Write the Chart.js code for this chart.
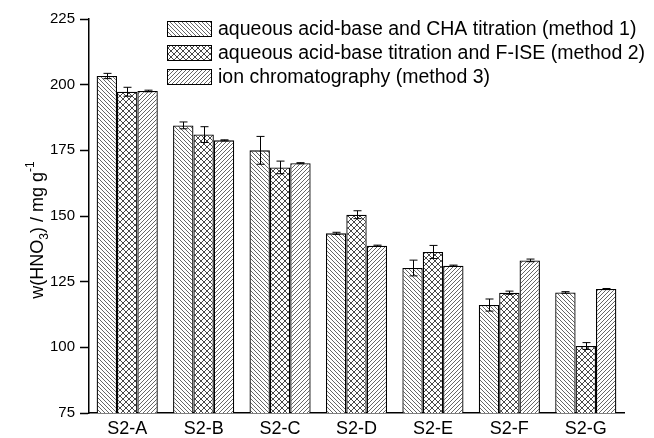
<!DOCTYPE html>
<html>
<head>
<meta charset="utf-8">
<script src="https://cdn.jsdelivr.net/npm/chart.js@4"></script>
<style>
  html, body { margin: 0; padding: 0; background: #fff; }
  #wrap { width: 654px; height: 438px; }
</style>
</head>
<body>
<div id="wrap"><canvas id="myChart" width="654" height="438"></canvas></div>
<script>
var samples = ['S2-A', 'S2-B', 'S2-C', 'S2-D', 'S2-E', 'S2-F', 'S2-G'];
var methodNames = [
    'aqueous acid-base and CHA titration (method 1)',
    'aqueous acid-base titration and F-ISE (method 2)',
    'ion chromatography (method 3)'
];
var method1 = [203.3, 184.5, 175.0, 143.4, 130.2, 116.1, 120.9];
var method2 = [197.3, 181.0, 168.5, 150.5, 136.3, 120.8, 100.5];
var method3 = [197.6, 178.8, 170.1, 138.7, 131.1, 133.1, 122.2];
var err1 = [1.0, 1.3, 5.3, 0.4, 3.0, 2.3, 0.3];
var err2 = [1.7, 3.0, 2.4, 1.5, 2.5, 0.6, 1.3];
var err3 = [0.3, 0.2, 0.2, 0.2, 0.2, 0.5, 0.2];
var yTicks = [75, 100, 125, 150, 175, 200, 225];

var FONT = '"Liberation Sans", Arial, sans-serif';

// hatch fills
function hatch(kind) {
    var s = kind === 'cross' ? 6 : 4;
    var c = document.createElement('canvas');
    c.width = s; c.height = s;
    var g = c.getContext('2d');
    g.fillStyle = '#fff';
    g.fillRect(0, 0, s, s);
    g.strokeStyle = kind === 'cross' ? '#333' : '#555';
    g.lineWidth = 0.9;
    g.beginPath();
    if (kind === 'back' || kind === 'cross') {
        g.moveTo(-1, -1); g.lineTo(s + 1, s + 1);
        g.moveTo(-1, s - 1); g.lineTo(1, s + 1);
        g.moveTo(s - 1, -1); g.lineTo(s + 1, 1);
    }
    if (kind === 'fwd' || kind === 'cross') {
        g.moveTo(-1, s + 1); g.lineTo(s + 1, -1);
        g.moveTo(-1, 1); g.lineTo(1, -1);
        g.moveTo(s - 1, s + 1); g.lineTo(s + 1, s - 1);
    }
    g.stroke();
    return g.createPattern(c, 'repeat');
}
var fills = [hatch('back'), hatch('cross'), hatch('fwd')];
var errs = [err1, err2, err3];

var errorBars = {
    id: 'errorBars',
    afterDatasetsDraw: function (chart) {
        var ctx = chart.ctx, y = chart.scales.y;
        ctx.save();
        ctx.strokeStyle = '#000';
        ctx.lineWidth = 1;
        chart.data.datasets.forEach(function (ds, i) {
            var meta = chart.getDatasetMeta(i);
            meta.data.forEach(function (bar, j) {
                var v = ds.data[j], e = errs[i][j];
                var top = y.getPixelForValue(v + e), bot = y.getPixelForValue(v - e);
                var x = Math.round(bar.x) + 0.5;
                ctx.beginPath();
                ctx.moveTo(x, top); ctx.lineTo(x, bot);
                ctx.moveTo(x - 4, top); ctx.lineTo(x + 4, top);
                ctx.moveTo(x - 4, bot); ctx.lineTo(x + 4, bot);
                ctx.stroke();
            });
        });
        ctx.restore();
    }
};

var legendAndTitle = {
    id: 'legendAndTitle',
    afterDraw: function (chart) {
        var ctx = chart.ctx;
        ctx.save();
        // legend
        chart.data.datasets.forEach(function (ds, i) {
            var bx = 167.5, by = 21.5 + i * 24;
            ctx.fillStyle = ds.backgroundColor;
            ctx.fillRect(bx, by, 44, 15);
            ctx.strokeStyle = '#000';
            ctx.lineWidth = 1;
            ctx.strokeRect(bx, by, 44, 15);
            ctx.fillStyle = '#000';
            ctx.font = '19.5px ' + FONT;
            ctx.textBaseline = 'middle';
            ctx.textAlign = 'left';
            ctx.fillText(ds.label, 218, by + 8.5);
        });
        // y axis title with sub/superscript
        var parts = [
            { t: 'w(HNO', size: 18, dy: 0 },
            { t: '3', size: 12, dy: 5 },
            { t: ') / mg g', size: 18, dy: 0 },
            { t: '-1', size: 12, dy: -9 }
        ];
        var total = 0;
        parts.forEach(function (p) {
            ctx.font = p.size + 'px ' + FONT;
            p.w = ctx.measureText(p.t).width;
            total += p.w;
        });
        ctx.translate(43, 230);
        ctx.rotate(-Math.PI / 2);
        ctx.textAlign = 'left';
        ctx.textBaseline = 'alphabetic';
        ctx.fillStyle = '#000';
        var px = -total / 2;
        parts.forEach(function (p) {
            ctx.font = p.size + 'px ' + FONT;
            ctx.fillText(p.t, px, p.dy);
            px += p.w;
        });
        ctx.restore();
    }
};

var ctx = document.getElementById('myChart').getContext('2d');
var chart = new Chart(ctx, {
    type: 'bar',
    data: {
        labels: samples,
        datasets: [method1, method2, method3].map(function (d, i) {
            return {
                label: methodNames[i],
                data: d,
                backgroundColor: fills[i],
                borderColor: '#000',
                borderWidth: 1.3,
                borderSkipped: 'bottom',
                categoryPercentage: 0.8,
                barPercentage: 1.0
            };
        })
    },
    options: {
        responsive: false,
        animation: false,
        layout: { padding: { left: 0, top: 19, right: 30, bottom: 0 } },
        plugins: {
            legend: { display: false },
            title: { display: false },
            tooltip: { enabled: false }
        },
        scales: {
            x: {
                grid: { display: false, drawTicks: false },
                border: { display: true, color: '#000', width: 1.5 },
                ticks: { color: '#000', padding: 5, font: { family: FONT, size: 18 } },
                afterFit: function (s) { s.height = 25; }
            },
            y: {
                min: 75,
                max: 225,
                afterBuildTicks: function (s) {
                    s.ticks = yTicks.map(function (v) { return { value: v }; });
                },
                grid: { drawOnChartArea: false, drawTicks: true, tickLength: 9, tickWidth: 1.5, tickColor: '#000' },
                border: { display: true, color: '#000', width: 1.5 },
                ticks: { color: '#000', padding: 5, font: { family: FONT, size: 15 } },
                afterFit: function (s) { s.width = 89; }
            }
        }
    },
    plugins: [errorBars, legendAndTitle]
});
</script>
</body>
</html>
